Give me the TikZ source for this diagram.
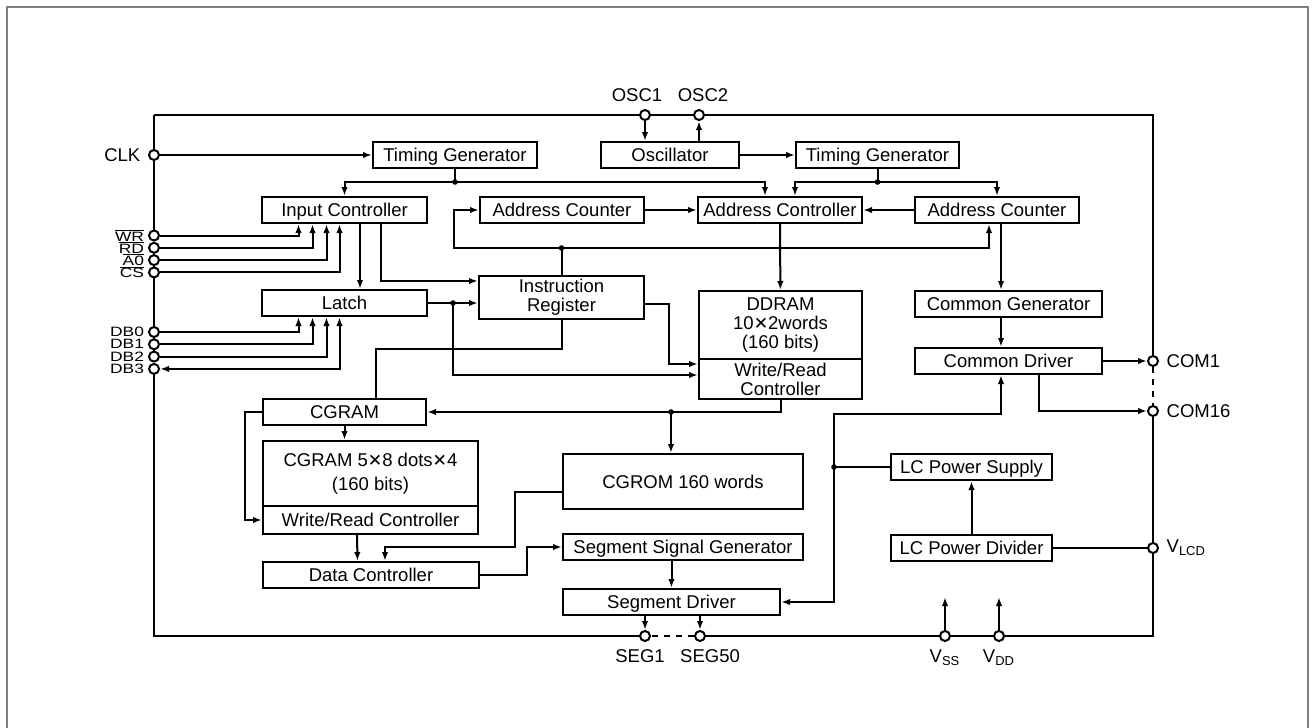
\documentclass[tikz,border=0pt]{standalone}
\usepackage{fontspec}
\setmainfont{Liberation Sans}
\newfontfamily\xsym{DejaVu Sans}
\usetikzlibrary{arrows.meta}
\newcommand{\mx}{{\xsym\fontsize{8.6}{9}\selectfont ✕}}
\newcommand{\ovl}[1]{\vbox{\hrule height 0.45pt \kern 0.7pt\hbox{#1}}}
\newcommand{\pinlbl}[1]{\scalebox{1}[0.78]{\fontsize{8.7}{9}\selectfont #1}}

\begin{document}
\begin{tikzpicture}[x=0.5pt, y=-0.5pt, line width=1pt,
  >={Latex[length=4.5pt,width=3.2pt]},
  every node/.style={font=\fontsize{9.25}{9.4}\selectfont},
  blk/.style={draw, inner sep=0pt, minimum height=13pt, minimum width=#1,
    text height=7.6pt, text depth=1pt},
  mblk/.style={draw, inner sep=0pt, minimum width=#1, align=center},
  pinnode/.style={circle, draw, fill=white, inner sep=0pt, minimum size=5pt},
  dot/.style={circle, fill, inner sep=0pt, minimum size=2.8pt}]

\useasboundingbox (0,0) rectangle (1313,728);
\draw[gray, line width=0.7pt] (7,728) -- (7,7) -- (1308,7) -- (1308,728);

% blocks
\node[blk=82pt] (tgA) at (455,155) {Timing Generator};
\node[blk=69pt] (osc) at (670,155) {Oscillator};
\node[blk=81.5pt] (tgB) at (877.5,155) {Timing Generator};
\node[blk=82.5pt] (inctl) at (344.5,210) {Input Controller};
\node[blk=82pt] (acA) at (562,210) {Address Counter};
\node[blk=82pt] (adctl) at (780,210) {Address Controller};
\node[blk=82pt] (acB) at (997,210) {Address Counter};
\node[blk=82.5pt] (latch) at (344.5,303) {Latch};
\node[mblk=82.5pt, minimum height=21.5pt] (ireg) at (561.5,297.5) {Instruction\\Register};
\node[mblk=81.5pt, minimum height=34pt] (ddram) at (780.5,325) {DDRAM\\10\mx2words\\(160 bits)};
\node[mblk=81.5pt, minimum height=20pt] (ddrw) at (780.5,379) {Write/Read\\Controller};
\node[blk=93.5pt] (cgen) at (1008.5,304) {Common Generator};
\node[blk=93.5pt] (cdrv) at (1008.5,361) {Common Driver};
\node[blk=81.5pt] (cgram) at (344.5,412) {CGRAM};
\node[mblk=107.5pt, minimum height=32.5pt] (cgarr) at (370.5,473.5) {CGRAM 5\mx8 dots\mx4\\[2.4pt](160 bits)};
\node[blk=107.5pt, minimum height=14pt] (cgrw) at (370.5,520) {Write/Read Controller};
\node[blk=120pt, minimum height=27.5pt] (cgrom) at (683,481.5) {CGROM 160 words};
\node[blk=80.5pt] (lcps) at (971.5,467) {LC Power Supply};
\node[blk=80.5pt] (lcpd) at (971.5,548) {LC Power Divider};
\node[blk=120pt] (ssg) at (683,547) {Segment Signal Generator};
\node[blk=108pt] (datc) at (371,575) {Data Controller};
\node[blk=108.5pt] (sdrv) at (671.5,602) {Segment Driver};

% pins
\node[pinnode, label=left:CLK] (pclk) at (154,155) {};
\node[pinnode, label={[inner sep=1.5pt]left:\pinlbl{\ovl{WR}}}] (pwr) at (154,235.5) {};
\node[pinnode, label={[inner sep=1.5pt]left:\pinlbl{\ovl{RD}}}] (prd) at (154,247.8) {};
\node[pinnode, label={[inner sep=1.5pt]left:\pinlbl{\ovl{A0}}}] (pao) at (154,260.1) {};
\node[pinnode, label={[inner sep=1.5pt]left:\pinlbl{\ovl{CS}}}] (pcs) at (154,272.4) {};
\node[pinnode, label={[inner sep=1.5pt]left:\pinlbl{DB0}}] (pdba) at (154,332) {};
\node[pinnode, label={[inner sep=1.5pt]left:\pinlbl{DB1}}] (pdbb) at (154,344.3) {};
\node[pinnode, label={[inner sep=1.5pt]left:\pinlbl{DB2}}] (pdbc) at (154,356.6) {};
\node[pinnode, label={[inner sep=1.5pt]left:\pinlbl{DB3}}] (pdbd) at (154,368.9) {};
\node[pinnode, label={[xshift=-4pt]above:OSC1}] (posca) at (645,115) {};
\node[pinnode, label={[xshift=2pt]above:OSC2}] (poscb) at (699,115) {};
\node[pinnode, label=right:COM1] (pcoma) at (1153,361) {};
\node[pinnode, label=right:COM16] (pcomb) at (1153,411) {};
\node[pinnode, label=right:V\textsubscript{LCD}] (pvlcd) at (1153,548) {};
\node[pinnode, label={[xshift=-2.5pt]below:SEG1}] (psega) at (645,636) {};
\node[pinnode, label={[xshift=5pt]below:SEG50}] (psegb) at (700,636) {};
\node[pinnode, label=below:V\textsubscript{SS}] (pvss) at (945,636) {};
\node[pinnode, label=below:V\textsubscript{DD}] (pvdd) at (999,636) {};

% chip outline
\coordinate (ctl) at (154,115);
\coordinate (ctr) at (1153,115);
\coordinate (cbr) at (1153,636);
\coordinate (cbl) at (154,636);
\draw (ctl) -- (posca) -- (poscb) -- (ctr) -- (pcoma);
\draw[dashed] (pcoma) -- (pcomb);
\draw (pcomb) -- (pvlcd) -- (cbr) -- (pvdd) -- (pvss) -- (psegb);
\draw[dashed] (psegb) -- (psega);
\draw (psega) -- (cbl) -- (pdbd) -- (pdbc) -- (pdbb) -- (pdba) -- (pcs) -- (pao)
  -- (prd) -- (pwr) -- (pclk) -- (ctl);

% junctions
\coordinate (jA) at (455,182);
\coordinate (jB) at (877.5,182);
\coordinate (jC) at (561.5,248);
\coordinate (jD) at (453,303);
\coordinate (jE) at (671,412);
\coordinate (jF) at (834,467);
\coordinate (colC) at (1001,0);
\coordinate (colL) at (360,0);
\coordinate (colM) at (381,281);

% clock and timing
\draw[->] (pclk) -- (tgA);
\draw (tgA.south) -- (jA);
\draw[->] (jA) -| (inctl.north);
\draw[->] (jA) -| ([xshift=-7.5pt]adctl.north);
\draw[->] (posca) -- (posca |- osc.north);
\draw[->] (poscb |- osc.north) -- (poscb);
\draw[->] (osc) -- (tgB);
\draw (tgB.south) -- (jB);
\draw[->] (jB) -| ([xshift=7.5pt]adctl.north);
\draw[->] (jB) -| (acB.north);

% address path
\draw[->] (acA) -- (adctl);
\draw[->] (acB) -- (adctl);
\draw (ireg.north) -- (jC);
\draw[->] (jC) -- (454,248) |- (acA.west);
\draw[->] (jC) -| ([xshift=-4pt]acB.south);
\draw[->] (adctl) -- (ddram);
\draw[->] (acB.south -| colC) -- (cgen.north -| colC);
\draw[->] (cgen.south -| colC) -- (cdrv.north -| colC);

% interface pins
\foreach \p/\d in {pwr/-23, prd/-16, pao/-9, pcs/-2.5}
  \draw[->] (\p) -| ([xshift=\d pt]inctl.south);
\foreach \p/\d in {pdba/-23, pdbb/-16, pdbc/-9}
  \draw[->] (\p) -| ([xshift=\d pt]latch.south);
\draw[<->] (pdbd) -| ([xshift=-2.5pt]latch.south);
\draw[->] (inctl.south -| colL) -- (latch.north -| colL);
\draw[->] (inctl.south -| colM) -- (colM) -- (colM -| ireg.west);
\draw[->] (latch.east) -- (latch.east -| ireg.west);
\draw[->] (jD) |- ([yshift=2pt]ddrw.west);
\draw[->] ([yshift=-3.25pt]ireg.east) -- (669,304) |- ([yshift=7.5pt]ddrw.west);
\draw (ireg.south) -- ++(0,29) -| ([xshift=15.75pt]cgram.north);

% character generator
\draw[->] (ddrw.south) |- (cgram.east);
\draw[->] (jE) -- (jE |- cgrom.north);
\draw[->] (cgram.south) -- (cgram.south |- cgarr.north);
\draw[->] (cgram.west) -- ++(-17,0) |- (cgrw.west);
\draw[->] ([xshift=-6.75pt]cgrw.south) -- ([xshift=-6.75pt]datc.north);
\draw[->] ([yshift=-5.25pt]cgrom.west) -| (515,547) -| ([xshift=7pt]datc.north);
\draw[->] (datc.east) -- (527,575) |- (ssg.west);
\draw[->] (sdrv.north |- ssg.south) -- (sdrv.north);
\draw[->] (sdrv.south -| psega) -- (psega);
\draw[->] (sdrv.south -| psegb) -- (psegb);

% power
\draw (lcps.west) -- (jF);
\draw[->] (jF) |- (sdrv.east);
\draw[->] (jF) -- (834,414) -| (cdrv.south -| colC);
\draw[->] (lcpd) -- (lcps);
\draw (lcpd) -- (pvlcd);
\draw[->] (cdrv) -- (pcoma);
\draw[->] ([xshift=15.25pt]cdrv.south) |- (pcomb);
\draw[->] (pvss) -- ++(0,-39);
\draw[->] (pvdd) -- ++(0,-39);

\foreach \j in {jA,jB,jC,jD,jE,jF}
  \node[dot] at (\j) {};
\end{tikzpicture}
\end{document}
